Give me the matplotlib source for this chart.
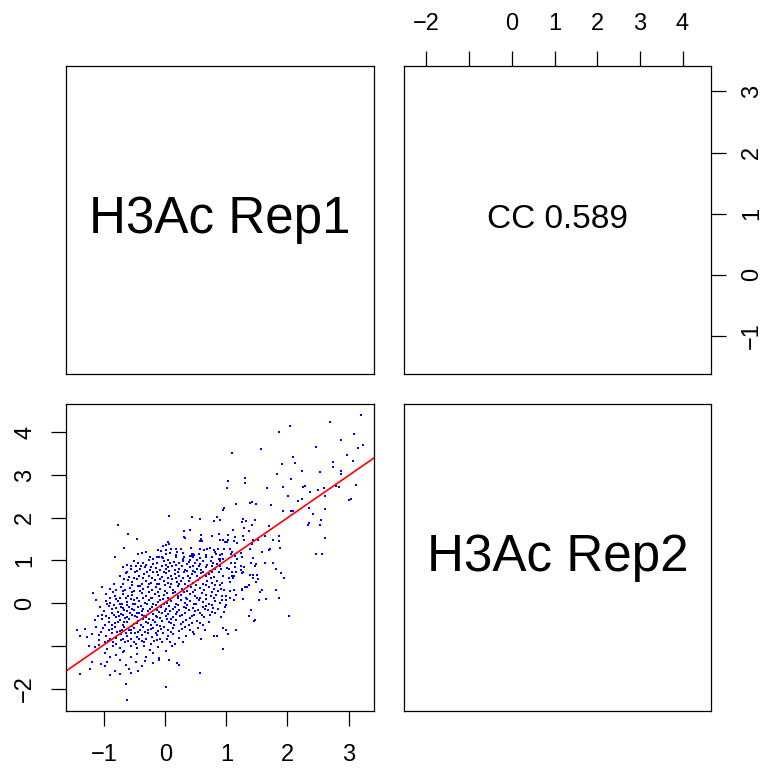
import matplotlib
matplotlib.use("Agg")
import matplotlib.pyplot as plt
import numpy as np

plt.rcParams['font.family'] = ['Liberation Sans', 'DejaVu Sans']

# ---------------- data ----------------
pts_outer = [(3.20,4.40),(2.04,4.15),(2.70,4.24),(1.86,4.02),(2.88,3.82),(3.09,3.96),(3.23,3.70),(3.16,3.63),
 (2.47,3.65),(1.57,3.62),(1.09,3.52),(2.98,3.47),(3.07,3.33),(2.09,3.42),(2.13,3.29),(2.75,3.31),(1.91,3.26),
 (2.75,3.18),(2.88,3.09),(2.88,3.03),(1.83,3.02),(2.24,3.09),(2.53,3.08),(2.05,2.92),(1.31,2.94),(1.02,2.87),
 (1.30,2.81),(1.01,2.69),(1.66,2.69),(1.93,2.72),(2.26,2.72),(2.37,2.61),(2.50,2.65),(2.59,2.71),(2.85,2.72),
 (3.13,2.76),(2.61,2.52),(2.01,2.50),(2.23,2.43),(3.04,2.43),(3.01,2.41),(2.61,2.20),(2.05,2.17),(2.09,2.17),
 (2.42,2.08),(2.55,1.96),(2.33,1.83),(2.35,1.87),(2.62,1.52),(2.47,1.16),(2.57,1.16),(2.28,2.74),(2.79,2.74),
 (2.18,2.40),(2.35,2.24),(2.54,1.82),(1.92,2.15)]

pts_mid = [(0.94,2.19),(0.96,2.24),(1.16,2.32),(1.38,2.35),(1.42,2.36),(1.49,2.32),(1.73,2.30),(1.27,1.98),
 (1.26,1.90),(1.32,1.92),(1.46,1.95),(1.28,1.77),(1.42,1.82),(1.37,1.69),(1.11,1.71),(1.02,1.59),(0.90,1.49),
 (0.94,1.48),(0.97,1.43),(1.01,1.43),(1.03,1.49),(1.12,1.46),(1.14,1.54),(1.17,1.40),(1.27,1.57),(1.29,1.49),
 (1.43,1.49),(1.51,1.49),(1.64,1.57),(1.69,1.80),(1.76,1.49),(1.86,1.57),(1.86,1.45),(1.88,1.30),(1.72,1.27),
 (1.70,1.24),(1.58,1.20),(1.42,1.38),(1.39,1.27),(1.06,1.27),(1.09,1.20),(1.08,1.15),(1.14,1.10),(1.24,1.17),
 (0.96,1.26),(0.90,1.12),(0.93,1.15),(1.26,1.09)]

pts_upper_left = [(-0.77,1.82),(-0.61,1.63),(-0.47,1.51),(0.06,2.05),(0.44,2.01),(0.57,1.98),(0.80,1.92),
 (0.89,1.94),(0.84,2.03),(0.31,1.68),(0.41,1.71),(0.30,1.55),(0.32,1.52),(0.58,1.59),(0.58,1.51),(0.57,1.45),
 (0.60,1.45),(0.77,1.57),(0.88,1.63),(-0.68,1.29),(0.05,1.43),(0.01,1.36),(0.06,1.38),(-0.04,1.34),(-0.12,1.24),
 (-0.07,1.23),(0.01,1.24),(0.10,1.26),(0.17,1.26),(0.25,1.26),(0.19,1.21),(-0.31,1.19),(-0.39,1.18),(-0.45,1.16),
 (0.01,1.15),(0.07,1.18),(0.29,1.18),(0.42,1.29),(0.46,1.16),(0.43,1.15),(0.40,1.10),(0.44,1.10),(0.47,1.12),
 (0.55,1.16),(0.57,1.28),(0.64,1.24),(0.69,1.27),(0.73,1.29),(0.80,1.24),(0.82,1.20),(0.83,1.15),(0.87,1.27),
 (-0.25,1.08),(-0.14,1.08),(-0.05,1.09),(0.18,1.13),(0.30,1.07),(0.66,1.12),(0.76,1.09)]

pts_lower_right = [(0.90,1.03),(0.94,1.03),(1.08,0.95),(1.14,0.95),(1.18,1.03),(1.24,0.88),(1.29,0.84),
 (1.43,1.05),(1.41,0.94),(1.49,0.91),(1.64,0.95),(1.76,0.94),(1.82,0.81),(1.90,0.70),(1.95,0.58),(0.91,0.81),
 (1.01,0.82),(1.04,0.80),(1.14,0.84),(1.09,0.73),(1.16,0.72),(1.24,0.78),(1.27,0.74),(1.26,0.70),(1.38,0.66),
 (1.43,0.66),(1.50,0.65),(1.43,0.59),(1.52,0.56),(1.49,0.49),(1.13,0.63),(1.09,0.64),(1.11,0.58),(1.05,0.58),
 (0.95,0.64),(0.93,0.47),(0.90,0.42),(1.06,0.49),(1.37,0.42),(1.34,0.38),(1.31,0.38),(1.25,0.34),(1.26,0.31),
 (1.12,0.30),(1.06,0.28),(0.96,0.31),(0.91,0.33),(1.16,0.20),(1.00,0.17),(0.93,0.17),(1.06,0.11),(1.13,0.08),
 (1.27,0.10),(0.99,0.08),(0.93,0.08),(1.58,0.30),(1.55,0.25),(1.53,0.07),(1.65,0.10),(1.82,0.32),(1.86,0.11),
 (0.99,-0.04),(0.98,-0.08),(0.96,-0.21),(1.40,-0.16),(1.37,-0.31),(1.46,-0.39),(1.45,-0.42),(2.03,-0.31),
 (0.91,-0.33),(0.95,-0.59),(1.00,-0.64),(1.03,-0.73),(1.16,-0.64),(0.94,-1.08),(1.47,0.87)]

pts_core = [
 (-0.82,1.07),(-0.20,1.03),(-0.10,1.08),(-0.04,1.05),(0.18,1.07),(0.29,1.03),(0.45,1.08),(0.56,1.05),(0.67,1.07),(0.88,1.03),
 (-0.62,0.90),(-0.48,0.88),(-0.44,0.94),(-0.36,0.95),(-0.32,0.90),(-0.20,0.92),(-0.14,0.95),(-0.03,0.98),(0.01,0.90),
 (0.08,0.95),(0.22,0.94),(0.29,0.98),(0.35,0.92),(0.41,1.00),(0.49,0.95),(0.57,0.92),(0.62,0.98),(0.69,0.90),(0.78,0.95),
 (0.84,0.92),(0.90,0.98),
 (-0.70,0.84),(-0.56,0.80),(-0.41,0.80),(-0.34,0.84),(-0.25,0.78),(-0.16,0.82),(-0.09,0.77),(0.01,0.80),(0.11,0.86),
 (0.15,0.77),(0.23,0.81),(0.32,0.78),(0.40,0.84),(0.45,0.75),(0.52,0.81),(0.59,0.78),(0.66,0.84),(0.73,0.75),(0.81,0.80),(0.89,0.86),
 (-0.75,0.63),(-0.65,0.70),(-0.59,0.61),(-0.49,0.72),(-0.43,0.64),(-0.35,0.69),(-0.27,0.63),(-0.20,0.72),(-0.12,0.66),
 (-0.05,0.61),(0.01,0.70),(0.09,0.64),(0.15,0.69),(0.23,0.63),(0.30,0.72),(0.37,0.64),(0.44,0.69),(0.52,0.63),(0.58,0.70),
 (0.66,0.64),(0.72,0.69),(0.80,0.61),(0.88,0.72),
 (-0.61,0.55),(-0.55,0.49),(-0.47,0.56),(-0.39,0.45),(-0.32,0.53),(-0.24,0.47),(-0.17,0.55),(-0.10,0.44),(-0.03,0.52),
 (0.05,0.47),(0.11,0.56),(0.19,0.49),(0.25,0.53),(0.33,0.44),(0.38,0.52),(0.46,0.47),(0.54,0.55),(0.61,0.45),(0.69,0.52),
 (0.77,0.47),(0.84,0.53),
 (-1.19,0.24),(-1.04,0.37),(-0.90,0.33),(-0.80,0.30),(-0.72,0.39),(-0.66,0.31),(-0.58,0.36),(-0.51,0.28),(-0.44,0.41),
 (-0.37,0.33),(-0.29,0.38),(-0.22,0.30),(-0.15,0.39),(-0.08,0.33),(-0.01,0.28),(0.07,0.38),(0.13,0.31),(0.21,0.41),
 (0.27,0.34),(0.35,0.28),(0.42,0.38),(0.48,0.31),(0.56,0.36),(0.64,0.30),(0.71,0.39),(0.79,0.33),(0.87,0.28),
 (-0.97,0.22),(-0.83,0.17),(-0.75,0.13),(-0.69,0.22),(-0.61,0.16),(-0.54,0.20),(-0.46,0.13),(-0.39,0.24),(-0.32,0.17),
 (-0.24,0.11),(-0.17,0.22),(-0.10,0.16),(-0.02,0.20),(0.05,0.13),(0.12,0.24),(0.20,0.16),(0.26,0.20),(0.34,0.13),
 (0.41,0.22),(0.49,0.16),(0.57,0.11),(0.66,0.20),(0.75,0.16),(0.83,0.19),
 (-1.14,0.08),(-0.97,0.06),(-0.90,0.00),(-0.78,0.05),(-0.71,-0.03),(-0.63,0.03),(-0.57,0.10),(-0.49,-0.01),(-0.43,0.05),
 (-0.34,0.00),(-0.26,0.08),(-0.20,-0.03),(-0.12,0.03),(-0.04,0.10),(0.02,0.00),(0.10,0.05),(0.18,-0.03),(0.25,0.08),
 (0.32,0.00),(0.40,0.05),(0.47,-0.01),(0.55,0.08),(0.62,0.02),(0.71,-0.03),(0.81,0.06),(0.89,0.00),
 (-1.07,-0.08),(-0.92,-0.06),(-0.81,-0.12),(-0.73,-0.08),(-0.67,-0.16),(-0.59,-0.09),(-0.51,-0.17),(-0.44,-0.08),
 (-0.36,-0.14),(-0.29,-0.19),(-0.22,-0.09),(-0.14,-0.16),(-0.07,-0.08),(0.01,-0.14),(0.08,-0.19),(0.15,-0.09),
 (0.23,-0.16),(0.31,-0.08),(0.38,-0.17),(0.45,-0.11),(0.54,-0.16),(0.61,-0.08),(0.70,-0.17),(0.78,-0.11),(0.87,-0.14),
 (-1.10,-0.31),(-0.97,-0.30),(-0.87,-0.23),(-0.80,-0.33),(-0.72,-0.25),(-0.66,-0.34),(-0.58,-0.23),(-0.50,-0.31),
 (-0.43,-0.22),(-0.35,-0.30),(-0.27,-0.36),(-0.20,-0.25),(-0.13,-0.33),(-0.05,-0.22),(0.01,-0.30),(0.09,-0.36),
 (0.17,-0.25),(0.24,-0.31),(0.32,-0.23),(0.40,-0.34),(0.47,-0.28),(0.56,-0.22),(0.64,-0.33),(0.73,-0.28),(0.82,-0.23),
 (-1.16,-0.39),(-1.03,-0.37),(-0.92,-0.43),(-0.82,-0.47),(-0.74,-0.39),(-0.67,-0.45),(-0.59,-0.37),(-0.51,-0.48),
 (-0.44,-0.42),(-0.36,-0.37),(-0.28,-0.47),(-0.21,-0.40),(-0.13,-0.50),(-0.05,-0.42),(0.02,-0.37),(0.10,-0.47),
 (0.18,-0.40),(0.25,-0.48),(0.34,-0.39),(0.43,-0.47),(0.52,-0.42),(0.61,-0.50),(0.72,-0.44),
 (-1.44,-0.62),(-1.31,-0.61),(-1.13,-0.55),(-1.02,-0.58),(-0.93,-0.64),(-0.83,-0.56),(-0.75,-0.65),(-0.68,-0.55),
 (-0.60,-0.62),(-0.52,-0.58),(-0.45,-0.67),(-0.36,-0.56),(-0.28,-0.64),(-0.20,-0.58),(-0.12,-0.65),(-0.03,-0.56),
 (0.05,-0.62),(0.13,-0.58),(0.22,-0.65),(0.32,-0.56),(0.41,-0.64),(0.53,-0.59),(0.65,-0.62),(0.79,-0.78),(0.85,-0.76),
 (-1.39,-0.76),(-1.29,-0.80),(-1.20,-0.72),(-1.08,-0.75),(-0.97,-0.78),(-0.87,-0.70),(-0.80,-0.81),(-0.72,-0.73),
 (-0.63,-0.78),(-0.56,-0.70),(-0.47,-0.80),(-0.38,-0.75),(-0.29,-0.70),(-0.22,-0.80),(-0.13,-0.75),(-0.04,-0.70),
 (0.05,-0.78),(0.13,-0.73),(0.23,-0.81),(0.34,-0.76),(0.47,-0.72),(0.59,-0.83),
 (-1.08,-0.86),(-0.98,-0.92),(-0.90,-0.84),(-0.81,-0.95),(-0.73,-0.87),(-0.66,-0.92),(-0.57,-0.84),(-0.48,-0.95),
 (-0.39,-0.89),(-0.31,-0.84),(-0.23,-0.95),(-0.14,-0.87),(-0.05,-0.92),(0.03,-0.84),(0.15,-0.95),(0.29,-0.91),
 (-1.25,-1.01),(-1.15,-1.03),(-1.08,-0.97),(-0.96,-1.08),(-0.86,-1.00),(-0.75,-1.05),(-0.67,-1.11),(-0.57,-1.01),
 (-0.47,-1.06),(-0.35,-1.00),(-0.25,-1.09),(-0.12,-1.03),(0.01,-1.11),(0.11,-1.00),
 (-0.98,-1.17),(-0.91,-1.25),(-0.81,-1.22),(-0.69,-1.15),(-0.56,-1.25),(-0.46,-1.19),(-0.32,-1.25),(-0.21,-1.17),
 (-0.10,-1.28),(0.06,-1.33),
 (-1.20,-1.39),(-1.06,-1.42),(-0.95,-1.37),(-0.75,-1.34),(-0.65,-1.44),(-0.48,-1.39),(-0.34,-1.36),(-0.21,-1.40),
 (-0.10,-1.33),(0.19,-1.40),
 (-1.24,-1.54),(-0.98,-1.48),(-0.83,-1.60),(-0.59,-1.54),(-0.45,-1.58),(-0.38,-1.48),(0.23,-1.45),
 (-1.39,-1.65),(-0.91,-1.68),(-0.75,-1.65),(-0.56,-1.64),(0.56,-1.64),
 (-0.65,-1.90),(0.01,-1.97),(-0.62,-2.26)]

pts_dense = [
 (-0.52,0.99),(-0.27,1.01),(0.05,1.00),(0.14,0.97),(0.38,0.97),(0.52,1.02),(0.74,0.99),
 (-0.57,0.86),(-0.40,0.87),(-0.24,0.85),(-0.06,0.88),(0.05,0.85),(0.18,0.89),(0.27,0.86),(0.46,0.88),(0.55,0.86),(0.76,0.87),
 (-0.62,0.74),(-0.46,0.76),(-0.30,0.73),(-0.13,0.74),(-0.02,0.73),(0.06,0.76),(0.20,0.73),(0.35,0.75),(0.49,0.73),(0.62,0.74),(0.77,0.73),
 (-0.68,0.57),(-0.52,0.59),(-0.36,0.60),(-0.22,0.58),(-0.08,0.57),(0.04,0.59),(0.18,0.58),(0.29,0.60),(0.41,0.58),(0.56,0.59),(0.74,0.58),
 (-0.84,0.44),(-0.69,0.46),(-0.54,0.43),(-0.41,0.40),(-0.27,0.44),(-0.13,0.46),(0.00,0.42),(0.09,0.44),(0.23,0.45),(0.37,0.41),
 (0.51,0.43),(0.66,0.42),(0.82,0.43),
 (-0.86,0.27),(-0.70,0.29),(-0.55,0.27),(-0.41,0.28),(-0.26,0.25),(-0.12,0.27),(0.02,0.24),(0.16,0.27),(0.31,0.25),(0.45,0.27),
 (0.60,0.24),(0.76,0.25),
 (-0.91,0.12),(-0.80,0.09),(-0.65,0.12),(-0.52,0.07),(-0.37,0.11),(-0.22,0.13),(-0.08,0.08),(0.07,0.10),(0.21,0.12),(0.36,0.09),
 (0.52,0.13),(0.67,0.09),(0.80,0.12),
 (-0.95,-0.03),(-0.84,-0.05),(-0.75,-0.02),(-0.62,-0.05),(-0.53,-0.03),(-0.40,-0.06),(-0.30,-0.02),(-0.16,-0.05),(-0.03,-0.03),
 (0.06,-0.06),(0.21,-0.04),(0.36,-0.05),(0.51,-0.03),(0.66,-0.06),(0.76,-0.04),
 (-1.00,-0.19),(-0.88,-0.14),(-0.77,-0.21),(-0.70,-0.11),(-0.63,-0.19),(-0.55,-0.14),(-0.47,-0.22),(-0.39,-0.19),(-0.25,-0.13),
 (-0.10,-0.20),(-0.01,-0.18),(0.12,-0.13),(0.19,-0.21),(0.34,-0.12),(0.49,-0.19),(0.65,-0.13),(0.76,-0.20),
 (-1.04,-0.27),(-0.92,-0.34),(-0.84,-0.27),(-0.76,-0.31),(-0.69,-0.28),(-0.62,-0.33),(-0.54,-0.27),(-0.46,-0.33),(-0.39,-0.27),
 (-0.31,-0.32),(-0.16,-0.29),(-0.09,-0.35),(0.05,-0.26),(0.13,-0.33),(0.28,-0.27),(0.44,-0.31),(0.60,-0.27),
 (-0.98,-0.51),(-0.87,-0.52),(-0.78,-0.44),(-0.70,-0.51),(-0.63,-0.43),(-0.55,-0.53),(-0.47,-0.46),(-0.40,-0.52),(-0.32,-0.43),
 (-0.24,-0.52),(-0.17,-0.45),(-0.09,-0.53),(0.06,-0.43),(0.14,-0.52),(0.29,-0.44),(0.38,-0.52),(0.56,-0.46),
 (-1.06,-0.67),(-0.88,-0.61),(-0.79,-0.68),(-0.71,-0.62),(-0.64,-0.69),(-0.56,-0.63),(-0.49,-0.70),(-0.41,-0.62),(-0.33,-0.68),
 (-0.24,-0.61),(-0.16,-0.69),(-0.07,-0.61),(0.09,-0.68),(0.27,-0.60),(0.45,-0.67),
 (-0.94,-0.88),(-0.85,-0.90),(-0.69,-0.83),(-0.61,-0.89),(-0.52,-0.91),(-0.43,-0.84),(-0.35,-0.92),(-0.18,-0.88),(-0.09,-0.83),
 (0.08,-0.90)]

fit_intercept = 0.02
fit_slope = 0.99
cc_text = "CC 0.589"
var_names = ["H3Ac Rep1", "H3Ac Rep2"]

rep1_ticks = [-1, 0, 1, 2, 3]
rep1_labels = ["\u22121", "0", "1", "2", "3"]
rep2_ticks = [-2, -1, 0, 1, 2, 3, 4]
rep2_labels = ["\u22122", "", "0", "1", "2", "3", "4"]

pts = pts_outer + pts_mid + pts_upper_left + pts_lower_right + pts_core + pts_dense
rep1 = np.array([p[0] for p in pts])
rep2 = np.array([p[1] for p in pts])

def rlim(v):
    lo, hi = v.min(), v.max()
    pad = 0.04 * (hi - lo)
    return lo - pad, hi + pad

xlim1 = rlim(rep1)
ylim2 = rlim(rep2)

# ---------------- figure ----------------
W, H = 764, 769
fig = plt.figure(figsize=(W / 100, H / 100), dpi=100)

def box(x0, y0, x1, y1):
    return [x0 / W, 1 - y1 / H, (x1 - x0) / W, (y1 - y0) / H]

ax_tl = fig.add_axes(box(66, 66, 374, 374))
ax_tr = fig.add_axes(box(404, 66, 711, 374))
ax_bl = fig.add_axes(box(66, 404, 374, 711))
ax_br = fig.add_axes(box(404, 404, 711, 711))

for ax in (ax_tl, ax_tr, ax_bl, ax_br):
    for s in ax.spines.values():
        s.set_linewidth(0.9)
        s.set_color('black')
    ax.tick_params(which='both', bottom=False, left=False, top=False, right=False,
                   labelbottom=False, labelleft=False, labeltop=False, labelright=False)

tick_kw = dict(length=10.5, width=0.9, color='black', labelsize=17)

# Bottom-left scatter
ax_bl.scatter(rep1, rep2, s=3.0, marker='s', c='#0000FF', linewidths=0)
ax_bl.axline((0, fit_intercept), slope=fit_slope, color='#FF0000', lw=1.2)
ax_bl.set_xlim(*xlim1)
ax_bl.set_ylim(*ylim2)
ax_bl.set_xticks(rep1_ticks)
ax_bl.set_xticklabels(rep1_labels)
ax_bl.set_yticks(rep2_ticks)
ax_bl.set_yticklabels(rep2_labels)
ax_bl.tick_params(axis='x', bottom=True, labelbottom=True, pad=13.5, **tick_kw)
ax_bl.tick_params(axis='y', left=True, labelleft=True, pad=11, labelrotation=90, **tick_kw)
for t in ax_bl.get_yticklabels():
    t.set_va('center')

# Top-right panel: axes on top (Rep2) and right (Rep1)
ax_tr.set_xlim(*ylim2)
ax_tr.set_ylim(*xlim1)
ax_tr.set_xticks(rep2_ticks)
ax_tr.set_xticklabels(rep2_labels)
ax_tr.set_yticks(rep1_ticks)
ax_tr.set_yticklabels(rep1_labels)
ax_tr.tick_params(axis='x', top=True, labeltop=True, pad=12, **tick_kw)
ax_tr.tick_params(axis='y', right=True, labelright=True, pad=11, labelrotation=90, **tick_kw)
for t in ax_tr.get_yticklabels():
    t.set_va('center')
ax_tr.text(0.5, 0.5, cc_text, transform=ax_tr.transAxes, ha='center', va='center', fontsize=24)

ax_tl.text(0.5, 0.5, var_names[0], transform=ax_tl.transAxes, ha='center', va='center', fontsize=36.8)
ax_br.text(0.5, 0.5, var_names[1], transform=ax_br.transAxes, ha='center', va='center', fontsize=36.8)

fig.savefig("out.png", dpi=100)
